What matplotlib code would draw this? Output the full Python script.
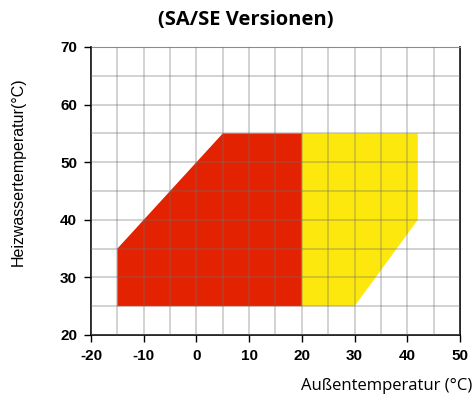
import matplotlib
matplotlib.use("Agg")
import matplotlib.pyplot as plt
from matplotlib.patches import Polygon

plt.rcParams["axes.unicode_minus"] = False

# operating ranges (outside temp, water temp)
red_x = [-15, -15, 5, 20, 20]
red_y = [25, 35, 55, 55, 25]
yellow_x = [20, 20, 42, 42, 30]
yellow_y = [25, 55, 55, 40, 25]

x_ticks = [-20, -10, 0, 10, 20, 30, 40, 50]
y_ticks = [20, 30, 40, 50, 60, 70]

fig = plt.figure(figsize=(4.73, 4.01), dpi=100)
ax = fig.add_axes([0.1924, 0.1646, 0.7801, 0.7182])

ax.add_patch(Polygon(list(zip(red_x, red_y)), closed=True, facecolor="#e22200", edgecolor="none", zorder=1))
ax.add_patch(Polygon(list(zip(yellow_x, yellow_y)), closed=True, facecolor="#fce80c", edgecolor="none", zorder=1))

ax.set_xlim(-20, 50)
ax.set_ylim(20, 70)
ax.set_xticks(x_ticks)
ax.set_yticks(y_ticks)
ax.set_xticks(range(-20, 51, 5), minor=True)
ax.set_yticks(range(20, 71, 5), minor=True)
ax.grid(which="both", color="#707070", alpha=0.4, linewidth=1.1, zorder=2)
ax.set_axisbelow(False)
ax.tick_params(which="minor", length=0)
ax.tick_params(which="major", direction="out", length=5, width=1, color="black", pad=5)

ax.spines["top"].set_color("#999999")
for s in ["left", "bottom", "right"]:
    ax.spines[s].set_color("black")
    ax.spines[s].set_linewidth(1.2)

for lbl in ax.get_xticklabels() + ax.get_yticklabels():
    lbl.set_fontweight("bold")
    lbl.set_fontsize(11)
    lbl.set_family("Liberation Sans")

fig.text(246 / 473, 1 - 20 / 401, "(SA/SE Versionen)", fontsize=14.5, fontweight="bold",
         family="Open Sans", ha="center", va="center")
fig.text(18 / 473, 1 - 172 / 401, "Heizwassertemperatur(°C)", fontsize=11.5,
         family="Liberation Sans", rotation=90, ha="center", va="center")
fig.text(472 / 473, 1 - 386 / 401, "Außentemperatur (°C)", fontsize=12,
         family="Open Sans", ha="right", va="center")

fig.savefig("out.png", dpi=100)
